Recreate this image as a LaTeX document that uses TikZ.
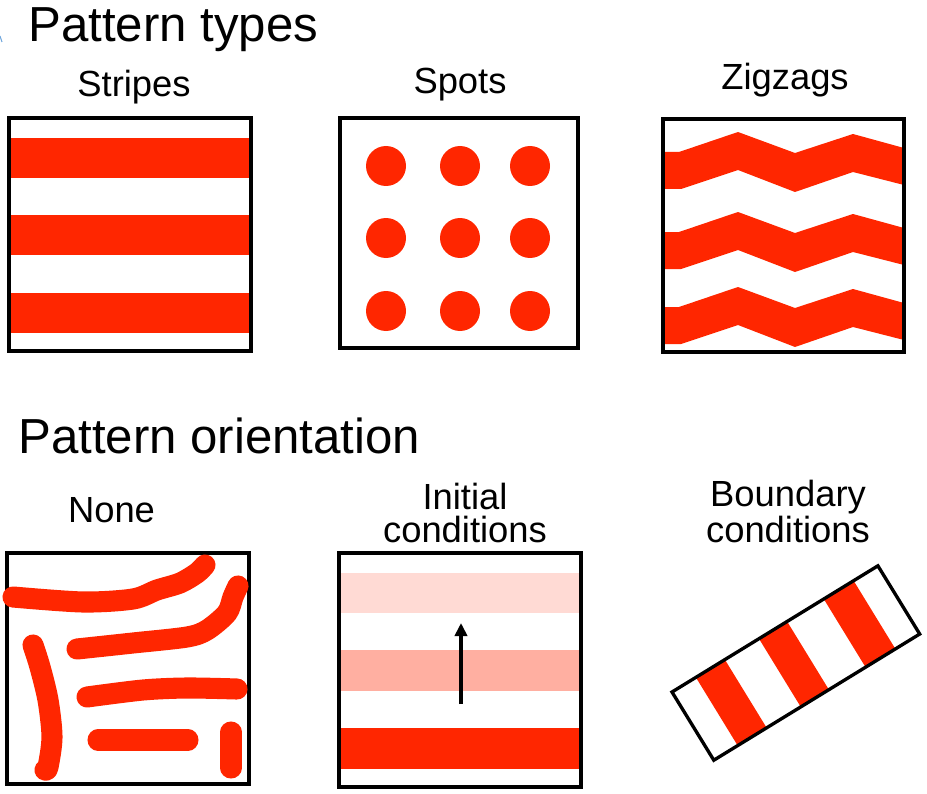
\documentclass[tikz,border=0pt]{standalone}
\usepackage{fontspec}
\setmainfont{Liberation Sans}
\usetikzlibrary{arrows.meta}

\definecolor{stripered}{RGB}{255,38,0}
\definecolor{slideblue}{RGB}{110,165,220}

\tikzset{
  frame/.style={line width=1.9pt},
  heading/.style={font=\fontsize{28}{30}\selectfont, inner sep=0pt, anchor=base west},
  boxtag/.style={font=\fontsize{20.7}{18.3}\selectfont, inner sep=0pt, anchor=base, align=center},
  squiggle/.style={draw=stripered, line width=12pt, line cap=round, line join=round},
}

\begin{document}
\begin{tikzpicture}[x=0.02cm, y=-0.02cm]
  \useasboundingbox (0,0) rectangle (927,794);
  \draw[slideblue, line width=0.6pt] (0,36) -- (2,42);

  % headings and labels
  \node[heading] (types) at (28,42) {Pattern types};
  \node[heading] (orient) at (18,453) {Pattern orientation};
  \node[boxtag] (stripetag) at (134,97) {Stripes};
  \node[boxtag] (spottag) at (460,94) {Spots};
  \node[boxtag] (zigtag) at (785,90) {Zigzags};
  \node[boxtag] (nonetag) at (111.5,522) {None};
  \node[boxtag] (inittag) at (465,542) {Initial\\conditions};
  \node[boxtag] (bndtag) at (788,542) {Boundary\\conditions};

  % stripes
  \foreach \y in {138,215,293}
    \fill[stripered] (9,\y) rectangle (251,\y+40);
  \draw[frame] (9,118) rectangle (251,351);

  % spots
  \foreach \x in {386,460,530}
    \foreach \y in {166,238,311}
      \fill[stripered] (\x,\y) circle (20);
  \draw[frame] (340,118) rectangle (578,348);

  % zigzags
  \begin{scope}
    \clip (663,119) rectangle (904,352);
    \foreach \dy in {0,80,155}
      \fill[stripered] (663,152+\dy) -- (679,152+\dy) -- (738,132+\dy) -- (795,153+\dy)
        -- (853,134+\dy) -- (904,148+\dy) -- (904,185+\dy) -- (853,172+\dy)
        -- (795,192+\dy) -- (738,170+\dy) -- (681,189+\dy) -- (663,189+\dy) -- cycle;
  \end{scope}
  \draw[frame] (663,119) rectangle (904,352);

  % none
  \draw[frame] (7,553) rectangle (249,784);
  \draw[squiggle] plot[smooth, tension=0.5] coordinates
    {(13,597) (83,602) (133,599) (157,590) (180,583) (197,573) (205,565)};
  \draw[squiggle] plot[smooth, tension=0.5] coordinates
    {(77,649) (133,643) (187,637) (207,630) (227,613) (233,597) (238,586)};
  \draw[squiggle] plot[smooth, tension=0.5] coordinates
    {(87,697) (143,690) (187,688) (237,689)};
  \draw[squiggle] (98,740) -- (188,740);
  \draw[squiggle] plot[smooth, tension=0.5] coordinates
    {(33,645) (40,667) (48,700) (52,737) (48,767) (45,770)};
  \draw[squiggle] (231,732) -- (231,768);

  % initial conditions
  \fill[stripered!17] (339,573) rectangle (581,613);
  \fill[stripered!37] (339,650) rectangle (581,691);
  \fill[stripered] (339,728) rectangle (581,769);
  \draw[frame] (339,553) rectangle (581,787);
  \coordinate (ictail) at (461,704);
  \coordinate (ictip) at (461,623);
  \draw[-{Triangle[width=7pt,length=7.5pt]}, line width=2.3pt] (ictail) -- (ictip);

  % boundary conditions
  \begin{scope}[shift={(672,692)}, rotate=31.5]
    \foreach \a/\b in {28/62,102/135,178/213}
      \fill[stripered] (\a,0) rectangle (\b,80);
    \draw[frame] (0,0) rectangle (241.5,80);
  \end{scope}
\end{tikzpicture}
\end{document}
